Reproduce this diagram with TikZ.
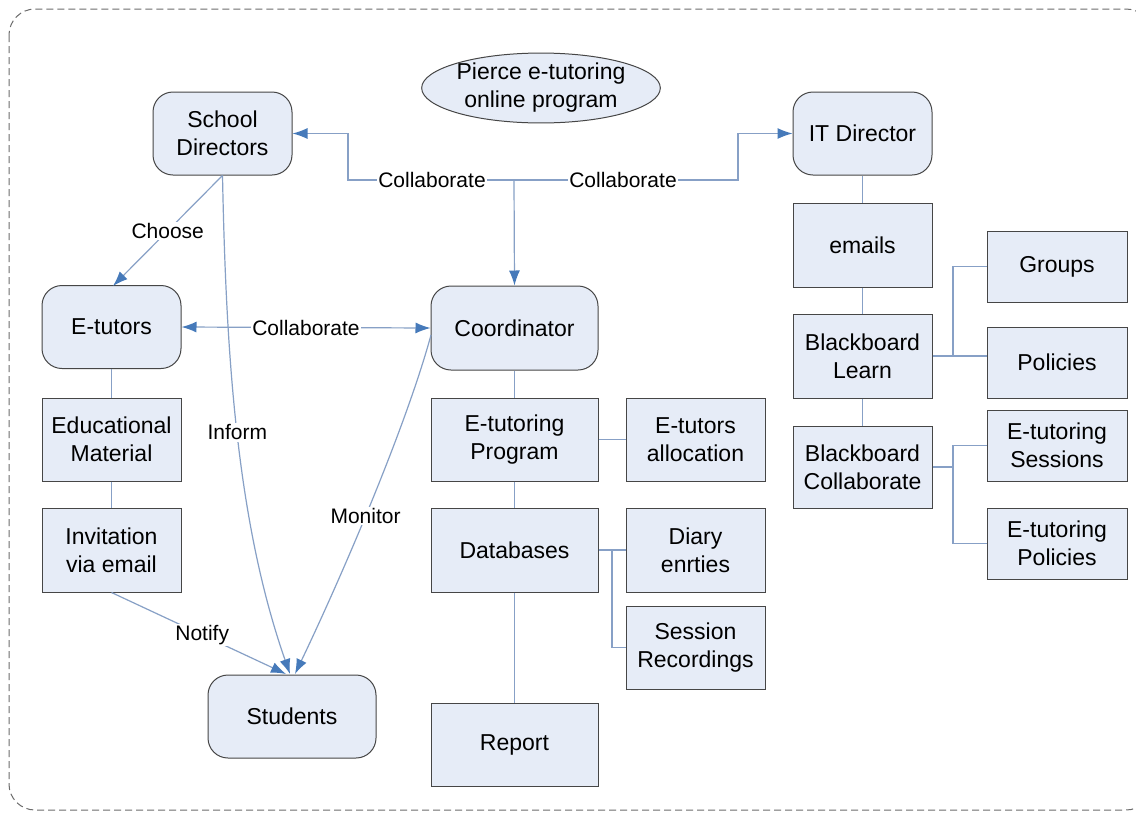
\documentclass[tikz,border=0pt]{standalone}
\usepackage{fontspec}
\setmainfont{Liberation Sans}
\usetikzlibrary{arrows.meta,shapes.geometric}
\definecolor{boxfill}{RGB}{230,236,247}
\definecolor{boxline}{RGB}{70,70,70}
\definecolor{wire}{RGB}{135,160,198}
\definecolor{tip}{RGB}{70,122,186}
\tikzset{
  box/.style={draw=boxline, line width=1pt, fill=boxfill, inner sep=0pt, align=center,
    font=\fontsize{23}{28}\selectfont},
  rbox/.style={box, rounded corners=20pt},
  wireline/.style={draw=wire, line width=1.2pt},
  flow/.style={wireline, -{Latex[length=15pt,width=11pt,color=tip]}},
  biflow/.style={wireline, {Latex[length=15pt,width=11pt,color=tip]}-{Latex[length=15pt,width=11pt,color=tip]}},
  lbl/.style={fill=white, inner sep=1.5pt, font=\fontsize{21}{25}\selectfont}
}
\begin{document}
\begin{tikzpicture}[x=1pt,y=-1pt]
\useasboundingbox (0,0) rectangle (1136,812);
\fill[white] (0,0) rectangle (1136,812);
\begin{scope}
  \clip (0,0) rectangle (1136,812);
  \draw[gray!85!black, line width=1pt, dash pattern=on 7pt off 4pt, rounded corners=26pt]
    (9,9) rectangle (1152,810);
\end{scope}

% title
\node[draw=boxline, line width=1pt, fill=boxfill, ellipse, minimum width=170pt, minimum height=67pt,
  inner sep=0pt, align=center, font=\fontsize{23}{28}\selectfont] (title) at (541,88)
  {Pierce e-tutoring\\online program};

% rounded actor boxes
\node[rbox, minimum width=139pt, minimum height=83pt] (school) at (222.5,133.5) {School\\Directors};
\node[rbox, minimum width=139pt, minimum height=83pt] (itdir) at (862.5,133.5) {IT Director};
\node[rbox, minimum width=139pt, minimum height=83pt] (etutors) at (111.5,327) {E-tutors};
\node[rbox, minimum width=167pt, minimum height=84pt] (coord) at (514.5,328) {Coordinator};
\node[rbox, minimum width=168pt, minimum height=83pt] (students) at (292,716.5) {Students};

% left column
\node[box, minimum width=139pt, minimum height=83pt] (edu) at (111.5,439.5) {Educational\\Material};
\node[box, minimum width=139pt, minimum height=84pt] (invite) at (111.5,550) {Invitation\\via email};

% middle column
\node[box, minimum width=167pt, minimum height=83pt] (prog) at (514.5,439.5) {E-tutoring\\Program};
\node[box, minimum width=139pt, minimum height=83pt] (alloc) at (695.5,439.5) {E-tutors\\allocation};
\node[box, minimum width=167pt, minimum height=84pt] (db) at (514.5,550) {Databases};
\node[box, minimum width=139pt, minimum height=84pt] (diary) at (695.5,550) {Diary\\enrties};
\node[box, minimum width=139pt, minimum height=83pt] (rec) at (695.5,647.5) {Session\\Recordings};
\node[box, minimum width=167pt, minimum height=83pt] (report) at (514.5,744.5) {Report};

% right column
\node[box, minimum width=139pt, minimum height=84pt] (emails) at (862.5,245) {emails};
\node[box, minimum width=139pt, minimum height=84pt] (bblearn) at (862.5,356) {Blackboard\\Learn};
\node[box, minimum width=139pt, minimum height=82pt] (bbcollab) at (862.5,467) {Blackboard\\Collaborate};
\node[box, minimum width=140pt, minimum height=71pt] (groups) at (1057,266.5) {Groups};
\node[box, minimum width=140pt, minimum height=71pt] (policies) at (1057,362.5) {Policies};
\node[box, minimum width=140pt, minimum height=71pt] (sessions) at (1057,445.5) {E-tutoring\\Sessions};
\node[box, minimum width=140pt, minimum height=71pt] (epol) at (1057,543.5) {E-tutoring\\Policies};

% junction points
\coordinate (hub) at (514,180);
\coordinate (lbend) at (348,180);
\coordinate (rbend) at (738,180);
\coordinate (learnfork) at (953,356);
\coordinate (collabfork) at (953,467);
\coordinate (dbfork) at (612,550);
\coordinate (monitorstart) at (431,335);
\coordinate (choosend) at (113,286);
\coordinate (informend) at (290,674);
\coordinate (monitorend) at (295,674);
\coordinate (notifyend) at (286,674);

% tree links
\draw[wireline] (coord) -- (prog);
\draw[wireline] (prog) -- (db);
\draw[wireline] (db) -- (report);
\draw[wireline] (prog) -- (alloc);
\draw[wireline] (db.east) -- (diary.west);
\draw[wireline] (dbfork) |- (rec.west);
\draw[wireline] (itdir) -- (emails);
\draw[wireline] (emails) -- (bblearn);
\draw[wireline] (bblearn) -- (bbcollab);
\draw[wireline] (bblearn.east) -- (learnfork) |- (groups.west);
\draw[wireline] (learnfork) -- (learnfork -| policies.west);
\draw[wireline] (bbcollab.east) -- (collabfork) |- (sessions.west);
\draw[wireline] (collabfork) |- (epol.west);
\draw[wireline] (etutors) -- (edu);
\draw[wireline] (edu) -- (invite);

% collaboration links from the coordinator's hub
\draw[flow] (hub) -- (lbend) |- (school.east);
\draw[flow] (hub) -- (rbend) |- (itdir.west);
\draw[flow] (hub) -- (coord.north);
\node[lbl] (c1) at (432,180) {Collaborate};
\node[lbl] (c2) at (623,180) {Collaborate};

\draw[biflow] (etutors.east) -- node[lbl] {Collaborate} (coord.west);

% links towards students
\draw[flow] (school.south) -- node[lbl, pos=0.5] {Choose} (choosend);
\draw[flow] (school.south) .. controls (226,350) and (236,520) .. node[lbl, pos=0.5] {Inform} (informend);
\draw[flow] (monitorstart) .. controls (405,430) and (340,580) .. node[lbl, pos=0.53] {Monitor} (monitorend);
\draw[flow] (invite.south) -- node[lbl, pos=0.52] {Notify} (notifyend);
\end{tikzpicture}
\end{document}
